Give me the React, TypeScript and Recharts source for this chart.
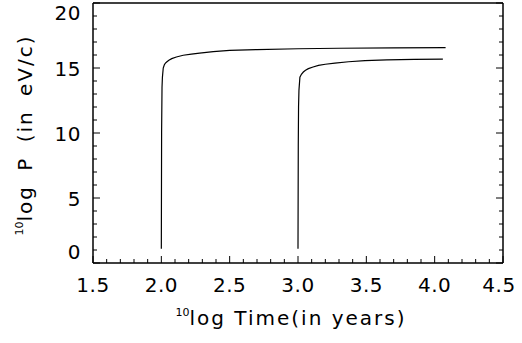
import React from 'react';
import { LineChart, Line, XAxis, YAxis } from 'recharts';

// earlier curve, starting at 10^2 years
const timeA = [2.0, 2.002, 2.005, 2.008, 2.014, 2.022, 2.03, 2.039, 2.055, 2.076, 2.11, 2.16, 2.22, 2.28, 2.38, 2.5, 2.7, 3.0, 3.3, 3.7, 4.08];
const momA = [1.1, 10, 13.5, 14.3, 15.0, 15.25, 15.37, 15.46, 15.6, 15.72, 15.85, 15.98, 16.07, 16.15, 16.26, 16.35, 16.42, 16.48, 16.52, 16.55, 16.57];

// later curve, starting at 10^3 years
const timeB = [3.0, 3.002, 3.004, 3.007, 3.014, 3.025, 3.039, 3.055, 3.076, 3.11, 3.15, 3.2, 3.27, 3.37, 3.49, 3.65, 3.85, 4.06];
const momB = [1.1, 9, 12, 13.3, 14.3, 14.52, 14.69, 14.83, 14.95, 15.08, 15.2, 15.29, 15.38, 15.48, 15.57, 15.62, 15.66, 15.69];

const xMajor = [1.5, 2.0, 2.5, 3.0, 3.5, 4.0, 4.5];
const yMajor = [0, 5, 10, 15, 20];

const X_DOMAIN: [number, number] = [1.5, 4.5];
const Y_DOMAIN: [number, number] = [0, 20];

const xTicks: number[] = [];
for (let i = 15; i <= 45; i++) xTicks.push(i / 10);
const yTicks: number[] = [];
for (let i = 0; i <= 20; i++) yTicks.push(i);

const seriesA = timeA.map((t, i) => ({ t, p: momA[i] }));
const seriesB = timeB.map((t, i) => ({ t, p: momB[i] }));

const FONT = 'DejaVu Sans';
const isMajorX = (v: number) => xMajor.some(m => Math.abs(m - v) < 1e-6);
const isMajorY = (v: number) => yMajor.includes(v);

const BottomTick = (props: any) => {
  const { x, y, payload } = props;
  const major = isMajorX(payload.value);
  const shift = payload.value === 4.5 ? -4 : 0;
  return (
    <g>
      <line x1={x} x2={x} y1={y} y2={y - (major ? 7 : 4)} stroke="#000" strokeWidth={1} />
      {major && (
        <text x={x + shift} y={y + 29} textAnchor="middle" fontFamily={FONT} fontSize={20} letterSpacing={0.5} fill="#000">
          {payload.value.toFixed(1)}
        </text>
      )}
    </g>
  );
};

const TopTick = (props: any) => {
  const { x, y, payload } = props;
  const major = isMajorX(payload.value);
  return <line x1={x} x2={x} y1={y} y2={y + (major ? 7 : 4)} stroke="#000" strokeWidth={1} />;
};

const LeftTick = (props: any) => {
  const { x, y, payload } = props;
  const major = isMajorY(payload.value);
  let dy = 7.5;
  if (payload.value === 20) dy = 17;
  if (payload.value === 0) dy = -4;
  return (
    <g>
      <line x1={x} x2={x + (major ? 7 : 4)} y1={y} y2={y} stroke="#000" strokeWidth={1} />
      {major && (
        <text x={x - 12} y={y + dy} textAnchor="end" fontFamily={FONT} fontSize={20} letterSpacing={0.5} fill="#000">
          {payload.value}
        </text>
      )}
    </g>
  );
};

const RightTick = (props: any) => {
  const { x, y, payload } = props;
  const major = isMajorY(payload.value);
  return <line x1={x} x2={x - (major ? 7 : 4)} y1={y} y2={y} stroke="#000" strokeWidth={1} />;
};

const App: React.FC = () => {
  return (
    <div style={{ position: 'absolute', left: 0, top: 0, width: 522, height: 343, background: '#fff' }}>
      <LineChart width={522} height={343} margin={{ top: 0, right: 0, bottom: 0, left: 0 }}>
        <XAxis
          xAxisId="b"
          orientation="bottom"
          type="number"
          dataKey="t"
          domain={X_DOMAIN}
          allowDataOverflow
          ticks={xTicks}
          interval={0}
          height={80}
          tickSize={0}
          tickMargin={0}
          tickLine={false}
          tick={<BottomTick />}
          axisLine={{ stroke: '#000', strokeWidth: 1.5 }}
        />
        <XAxis
          xAxisId="t"
          orientation="top"
          type="number"
          domain={X_DOMAIN}
          allowDataOverflow
          ticks={xTicks}
          interval={0}
          height={3}
          tickSize={0}
          tickMargin={0}
          tickLine={false}
          tick={<TopTick />}
          axisLine={{ stroke: '#000', strokeWidth: 1.5 }}
        />
        <YAxis
          yAxisId="l"
          orientation="left"
          type="number"
          domain={Y_DOMAIN}
          allowDataOverflow
          ticks={yTicks}
          interval={0}
          width={93}
          tickSize={0}
          tickMargin={0}
          tickLine={false}
          tick={<LeftTick />}
          axisLine={{ stroke: '#000', strokeWidth: 1.5 }}
        />
        <YAxis
          yAxisId="r"
          orientation="right"
          type="number"
          domain={Y_DOMAIN}
          allowDataOverflow
          ticks={yTicks}
          interval={0}
          width={19}
          tickSize={0}
          tickMargin={0}
          tickLine={false}
          tick={<RightTick />}
          axisLine={{ stroke: '#000', strokeWidth: 1.5 }}
        />
        <Line
          xAxisId="b"
          yAxisId="l"
          data={seriesA}
          dataKey="p"
          type="linear"
          stroke="#000"
          strokeWidth={1.2}
          dot={false}
          isAnimationActive={false}
        />
        <Line
          xAxisId="b"
          yAxisId="l"
          data={seriesB}
          dataKey="p"
          type="linear"
          stroke="#000"
          strokeWidth={1.2}
          dot={false}
          isAnimationActive={false}
        />
        <g>
          <text x={291} y={325} textAnchor="middle" fontFamily={FONT} fontSize={20} letterSpacing={2} fill="#000">
            <tspan fontSize={11} letterSpacing={0} dy={-9}>10</tspan>
            <tspan dy={9}>log Time(in years)</tspan>
          </text>
          <text transform="translate(32,135) rotate(-90)" x={0} y={0} textAnchor="middle" fontFamily={FONT} fontSize={20} letterSpacing={2} wordSpacing={6} fill="#000">
            <tspan fontSize={11} letterSpacing={0} dy={-9}>10</tspan>
            <tspan dy={9}>log P (in eV/c)</tspan>
          </text>
        </g>
      </LineChart>
    </div>
  );
};

export default App;
